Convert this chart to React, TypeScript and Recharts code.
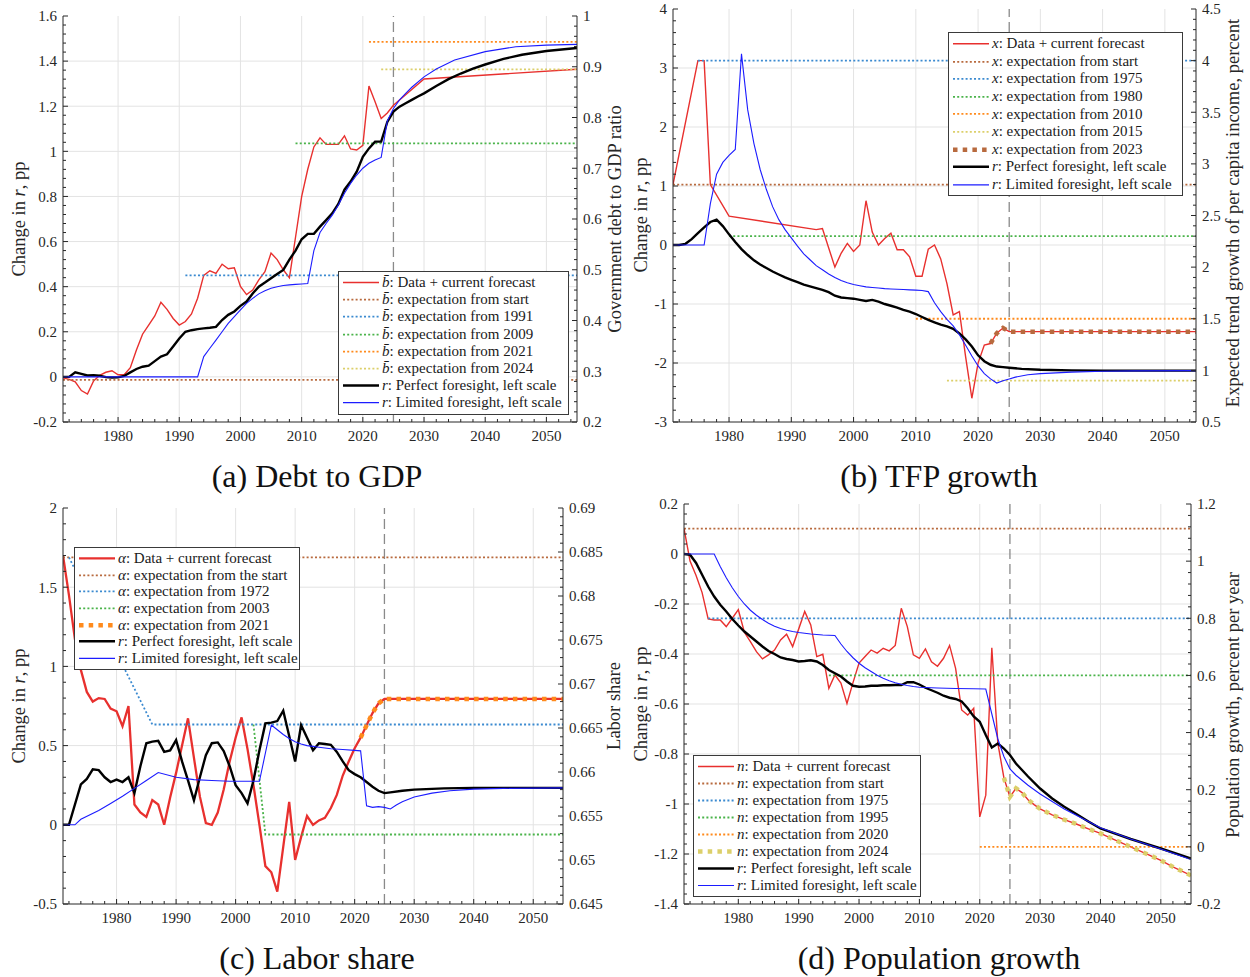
import React from 'react';
import { ComposedChart, Line, XAxis, YAxis, ReferenceLine, CartesianGrid } from 'recharts';

type Pt = [number, number];

const FONT = '"Liberation Serif", "Times New Roman", Times, serif';
const INK = '#262626';

const RED = '#e8302e';
const BROWN = '#b86a3e';
const BLUE_DOT = '#3b8ad0';
const GREEN = '#4ab34a';
const ORANGE = '#ff8a1c';
const YELLOW = '#dccf6a';
const BLUE = '#1c1cff';
const BLACK = '#000000';

const YEAR_LABELS = [1980, 1990, 2000, 2010, 2020, 2030, 2040, 2050];
const X_DOMAIN: [number, number] = [1971, 2055];
const FORECAST_START = 2025;

// ---------------- (a) Debt to GDP ----------------
const A_L_TICKS = [-0.2, 0, 0.2, 0.4, 0.6, 0.8, 1, 1.2, 1.4, 1.6];
const A_R_TICKS = [0.2, 0.3, 0.4, 0.5, 0.6, 0.7, 0.8, 0.9, 1];
// debt to GDP ratio (right scale)
const A_BBAR_DATA: Pt[] = [
  [1971, 0.287], [1972, 0.284], [1973, 0.279], [1974, 0.262], [1975, 0.255], [1976, 0.281], [1977, 0.292],
  [1978, 0.298], [1979, 0.301], [1980, 0.293], [1981, 0.293], [1982, 0.307], [1983, 0.342], [1984, 0.373],
  [1985, 0.391], [1986, 0.409], [1987, 0.436], [1988, 0.422], [1989, 0.404], [1990, 0.391], [1991, 0.398],
  [1992, 0.413], [1993, 0.444], [1994, 0.489], [1995, 0.498], [1996, 0.493], [1997, 0.511], [1998, 0.502],
  [1999, 0.504], [2000, 0.467], [2001, 0.451], [2002, 0.46], [2003, 0.48], [2004, 0.496], [2005, 0.533],
  [2006, 0.52], [2007, 0.5], [2008, 0.484], [2009, 0.564], [2010, 0.644], [2011, 0.698], [2012, 0.742],
  [2013, 0.76], [2014, 0.747], [2015, 0.747], [2016, 0.747], [2017, 0.764], [2018, 0.738], [2019, 0.736],
  [2020, 0.745], [2021, 0.862], [2022, 0.831], [2023, 0.798], [2024, 0.809], [2025, 0.824], [2030, 0.876],
  [2055, 0.895],
];
const A_EXP_START: Pt[] = [[1971, 0.283], [2055, 0.283]];
const A_EXP_1991: Pt[] = [[1991, 0.489], [2055, 0.489]];
const A_EXP_2009: Pt[] = [[2009, 0.749], [2055, 0.749]];
const A_EXP_2021: Pt[] = [[2021, 0.949], [2055, 0.949]];
const A_EXP_2024: Pt[] = [[2023, 0.895], [2055, 0.895]];
const A_R_PERFECT: Pt[] = [
  [1971, 0], [1972, 0], [1973, 0.02], [1974, 0.013], [1975, 0.006], [1976, 0.007], [1977, 0.005], [1978, -0.001],
  [1979, -0.003], [1980, -0.002], [1981, 0.004], [1982, 0.02], [1983, 0.035], [1984, 0.045], [1985, 0.05],
  [1986, 0.07], [1987, 0.09], [1988, 0.1], [1989, 0.135], [1990, 0.17], [1991, 0.2], [1992, 0.207], [1993, 0.212],
  [1994, 0.215], [1995, 0.218], [1996, 0.222], [1997, 0.252], [1998, 0.275], [1999, 0.29], [2000, 0.315],
  [2001, 0.334], [2002, 0.37], [2003, 0.4], [2004, 0.418], [2005, 0.437], [2006, 0.456], [2007, 0.474],
  [2008, 0.52], [2009, 0.56], [2010, 0.61], [2011, 0.634], [2012, 0.634], [2013, 0.666], [2014, 0.695],
  [2015, 0.725], [2016, 0.767], [2017, 0.83], [2018, 0.866], [2019, 0.91], [2020, 0.976], [2021, 1.013],
  [2022, 1.043], [2023, 1.043], [2024, 1.13], [2025, 1.176], [2026, 1.198], [2027, 1.213], [2028, 1.228],
  [2029, 1.243], [2030, 1.257], [2032, 1.29], [2034, 1.32], [2036, 1.345], [2038, 1.367], [2040, 1.385],
  [2043, 1.41], [2046, 1.428], [2050, 1.445], [2055, 1.458],
];
const A_R_LIMITED: Pt[] = [
  [1971, 0], [1993, 0], [1994, 0.09], [1995, 0.127], [1996, 0.163], [1997, 0.2], [1998, 0.237], [1999, 0.267],
  [2000, 0.297], [2001, 0.326], [2002, 0.348], [2003, 0.368], [2004, 0.382], [2005, 0.393], [2006, 0.4],
  [2007, 0.405], [2008, 0.408], [2009, 0.41], [2010, 0.412], [2011, 0.414], [2012, 0.56], [2013, 0.64],
  [2014, 0.68], [2015, 0.717], [2016, 0.762], [2017, 0.814], [2018, 0.858], [2019, 0.895], [2020, 0.925],
  [2021, 0.947], [2022, 0.962], [2023, 0.973], [2024, 1.135], [2025, 1.19], [2026, 1.228], [2027, 1.257],
  [2028, 1.284], [2030, 1.33], [2032, 1.365], [2035, 1.405], [2040, 1.442], [2045, 1.464], [2050, 1.471],
  [2055, 1.474],
];

// ---------------- (b) TFP growth ----------------
const B_L_TICKS = [-3, -2, -1, 0, 1, 2, 3, 4];
const B_R_TICKS = [0.5, 1, 1.5, 2, 2.5, 3, 3.5, 4, 4.5];
const B_X_DATA: Pt[] = [
  [1971, 2.8], [1975, 4.0], [1976, 4.0], [1977, 2.8], [1980, 2.494], [1994, 2.363], [1995, 2.374], [1997, 2.0],
  [1998, 2.134], [1999, 2.23], [2000, 2.151], [2001, 2.214], [2002, 2.643], [2003, 2.34], [2004, 2.214],
  [2005, 2.277], [2006, 2.329], [2007, 2.169], [2008, 2.169], [2009, 2.1], [2010, 1.911], [2011, 1.911],
  [2012, 2.174], [2013, 2.214], [2014, 2.08], [2015, 1.84], [2016, 1.537], [2017, 1.57], [2018, 1.13],
  [2019, 0.73], [2020, 1.07], [2021, 1.246], [2022, 1.26], [2023, 1.36], [2024, 1.41], [2025, 1.375],
  [2055, 1.375],
];
const B_EXP_START: Pt[] = [[1971, 2.8], [2055, 2.8]];
const B_EXP_1975: Pt[] = [[1975, 4.0], [2055, 4.0]];
const B_EXP_1980: Pt[] = [[1980, 2.3], [2055, 2.3]];
const B_EXP_2010: Pt[] = [[2010, 1.5], [2055, 1.5]];
const B_EXP_2015: Pt[] = [[2015, 0.9], [2055, 0.9]];
const B_EXP_2023: Pt[] = [[2022, 1.26], [2023, 1.36], [2024, 1.41], [2025, 1.375], [2055, 1.375]];
const B_R_PERFECT: Pt[] = [
  [1971, 0], [1972, 0], [1973, 0.02], [1974, 0.1], [1975, 0.2], [1976, 0.3], [1977, 0.39], [1978, 0.43],
  [1979, 0.32], [1980, 0.18], [1981, 0.05], [1982, -0.07], [1983, -0.17], [1984, -0.26], [1985, -0.33],
  [1986, -0.39], [1987, -0.45], [1988, -0.5], [1989, -0.55], [1990, -0.59], [1991, -0.63], [1992, -0.67],
  [1993, -0.7], [1994, -0.73], [1995, -0.76], [1996, -0.8], [1997, -0.86], [1998, -0.89], [1999, -0.9],
  [2000, -0.91], [2001, -0.93], [2002, -0.95], [2003, -0.93], [2004, -0.96], [2005, -1.0], [2006, -1.03],
  [2007, -1.06], [2008, -1.1], [2009, -1.13], [2010, -1.17], [2011, -1.22], [2012, -1.27], [2013, -1.31],
  [2014, -1.35], [2015, -1.38], [2016, -1.42], [2017, -1.5], [2018, -1.6], [2019, -1.72], [2020, -1.87],
  [2021, -1.97], [2022, -2.03], [2023, -2.06], [2024, -2.07], [2025, -2.08], [2027, -2.1], [2030, -2.115],
  [2035, -2.125], [2040, -2.13], [2055, -2.13],
];
const B_R_LIMITED: Pt[] = [
  [1971, 0], [1976, 0], [1977, 0.7], [1978, 1.2], [1979, 1.4], [1980, 1.52], [1981, 1.62], [1982, 3.24],
  [1983, 2.29], [1984, 1.72], [1985, 1.28], [1986, 0.94], [1987, 0.65], [1988, 0.43], [1989, 0.26], [1990, 0.12],
  [1991, -0.02], [1992, -0.15], [1993, -0.25], [1994, -0.35], [1995, -0.42], [1996, -0.49], [1997, -0.55],
  [1998, -0.6], [1999, -0.64], [2000, -0.67], [2001, -0.69], [2002, -0.71], [2003, -0.72], [2004, -0.73],
  [2005, -0.74], [2006, -0.745], [2007, -0.75], [2008, -0.755], [2009, -0.76], [2010, -0.765], [2011, -0.77],
  [2012, -0.79], [2013, -0.98], [2014, -1.13], [2015, -1.26], [2016, -1.37], [2017, -1.52], [2018, -1.7],
  [2019, -1.88], [2020, -2.05], [2021, -2.18], [2022, -2.27], [2023, -2.34], [2024, -2.3], [2025, -2.27],
  [2026, -2.24], [2028, -2.2], [2030, -2.18], [2035, -2.155], [2040, -2.14], [2045, -2.133], [2055, -2.13],
];

// ---------------- (c) Labor share ----------------
const C_L_TICKS = [-0.5, 0, 0.5, 1, 1.5, 2];
const C_R_TICKS = [0.645, 0.65, 0.655, 0.66, 0.665, 0.67, 0.675, 0.68, 0.685, 0.69];
const C_ALPHA_DATA: Pt[] = [
  [1971, 0.6846], [1972, 0.6801], [1973, 0.6751], [1974, 0.6716], [1975, 0.6691], [1976, 0.668], [1977, 0.6684],
  [1978, 0.6683], [1979, 0.6672], [1980, 0.6669], [1981, 0.6652], [1982, 0.6675], [1983, 0.6563], [1984, 0.6554],
  [1985, 0.6549], [1986, 0.6568], [1987, 0.6563], [1988, 0.654], [1989, 0.6571], [1990, 0.6599], [1991, 0.663],
  [1992, 0.6661], [1993, 0.6616], [1994, 0.6572], [1995, 0.6542], [1996, 0.654], [1997, 0.6554], [1998, 0.658],
  [1999, 0.6612], [2000, 0.6639], [2001, 0.6662], [2002, 0.6626], [2003, 0.6585], [2004, 0.654], [2005, 0.6493],
  [2006, 0.6486], [2007, 0.6464], [2008, 0.6515], [2009, 0.6566], [2010, 0.65], [2011, 0.6526], [2012, 0.655],
  [2013, 0.654], [2014, 0.6545], [2015, 0.6548], [2016, 0.6559], [2017, 0.6574], [2018, 0.6596], [2019, 0.6612],
  [2020, 0.6627], [2021, 0.6639], [2022, 0.6653], [2023, 0.6667], [2024, 0.6678], [2025, 0.6683], [2055, 0.6683],
];
const C_EXP_START: Pt[] = [[1971, 0.6844], [2055, 0.6844]];
const C_EXP_1972: Pt[] = [[1972, 0.6844], [1986, 0.6654], [2055, 0.6654]];
const C_EXP_2003: Pt[] = [[2003, 0.6654], [2005, 0.6529], [2055, 0.6529]];
const C_EXP_2021: Pt[] = [[2021, 0.6639], [2022, 0.6653], [2023, 0.6667], [2024, 0.6678], [2025, 0.6683], [2055, 0.6683]];
const C_R_PERFECT: Pt[] = [
  [1971, 0], [1972, 0], [1974, 0.255], [1975, 0.29], [1976, 0.35], [1977, 0.345], [1978, 0.3], [1979, 0.27],
  [1980, 0.285], [1981, 0.27], [1982, 0.3], [1983, 0.2], [1984, 0.37], [1985, 0.515], [1986, 0.525], [1987, 0.53],
  [1988, 0.46], [1989, 0.47], [1990, 0.535], [1991, 0.4], [1992, 0.28], [1993, 0.155], [1994, 0.3], [1995, 0.44],
  [1996, 0.515], [1997, 0.52], [1998, 0.465], [1999, 0.37], [2000, 0.25], [2001, 0.2], [2002, 0.135], [2003, 0.28],
  [2004, 0.47], [2005, 0.64], [2006, 0.645], [2007, 0.655], [2008, 0.72], [2009, 0.56], [2010, 0.4], [2011, 0.63],
  [2012, 0.55], [2013, 0.47], [2014, 0.515], [2015, 0.51], [2016, 0.505], [2017, 0.46], [2018, 0.4], [2019, 0.345],
  [2020, 0.32], [2021, 0.3], [2022, 0.27], [2023, 0.24], [2024, 0.215], [2025, 0.2], [2026, 0.205], [2028, 0.215],
  [2030, 0.222], [2035, 0.23], [2040, 0.233], [2055, 0.233],
];
const C_R_LIMITED: Pt[] = [
  [1971, 0], [1973, 0], [1974, 0.035], [1977, 0.09], [1979, 0.135], [1981, 0.18], [1983, 0.23], [1985, 0.28],
  [1987, 0.33], [1990, 0.3], [1993, 0.285], [1996, 0.28], [1999, 0.275], [2004, 0.275], [2006, 0.63], [2007, 0.6],
  [2008, 0.57], [2009, 0.545], [2010, 0.525], [2011, 0.51], [2012, 0.5], [2013, 0.495], [2014, 0.49], [2015, 0.485],
  [2016, 0.48], [2018, 0.475], [2020, 0.47], [2021, 0.467], [2022, 0.12], [2023, 0.11], [2024, 0.115], [2025, 0.11],
  [2026, 0.1], [2027, 0.125], [2028, 0.145], [2030, 0.175], [2033, 0.2], [2036, 0.215], [2040, 0.225], [2045, 0.23],
  [2055, 0.233],
];

// ---------------- (d) Population growth ----------------
const D_L_TICKS = [-1.4, -1.2, -1, -0.8, -0.6, -0.4, -0.2, 0, 0.2];
const D_R_TICKS = [-0.2, 0, 0.2, 0.4, 0.6, 0.8, 1, 1.2];
const D_N_DATA: Pt[] = [
  [1971, 1.115], [1972, 1.0], [1973, 0.95], [1974, 0.89], [1975, 0.798], [1976, 0.794], [1977, 0.794], [1978, 0.771],
  [1979, 0.8], [1980, 0.83], [1981, 0.751], [1982, 0.718], [1983, 0.683], [1984, 0.658], [1985, 0.672], [1986, 0.689],
  [1987, 0.724], [1988, 0.744], [1989, 0.701], [1991, 0.824], [1992, 0.777], [1993, 0.666], [1994, 0.674],
  [1995, 0.555], [1996, 0.602], [1997, 0.573], [1998, 0.502], [1999, 0.575], [2000, 0.643], [2001, 0.666],
  [2002, 0.689], [2003, 0.678], [2004, 0.695], [2005, 0.686], [2006, 0.705], [2007, 0.835], [2008, 0.771],
  [2009, 0.672], [2010, 0.66], [2011, 0.693], [2012, 0.648], [2013, 0.632], [2014, 0.66], [2015, 0.705],
  [2016, 0.625], [2017, 0.479], [2018, 0.461], [2019, 0.485], [2020, 0.105], [2021, 0.181], [2022, 0.697],
  [2023, 0.362], [2024, 0.242], [2025, 0.175], [2026, 0.205], [2027, 0.19], [2028, 0.165], [2029, 0.148],
  [2030, 0.133], [2032, 0.112], [2034, 0.095], [2036, 0.08], [2038, 0.063], [2040, 0.047], [2042, 0.028],
  [2045, 0.0], [2048, -0.028], [2050, -0.047], [2052, -0.07], [2055, -0.1],
];
const D_EXP_START: Pt[] = [[1971, 1.114], [2055, 1.114]];
const D_EXP_1975: Pt[] = [[1975, 0.8], [2055, 0.8]];
const D_EXP_1995: Pt[] = [[1995, 0.6], [2055, 0.6]];
const D_EXP_2020: Pt[] = [[2020, 0], [2055, 0]];
const D_EXP_2024: Pt[] = [
  [2024, 0.242], [2025, 0.175], [2026, 0.205], [2027, 0.19], [2028, 0.165], [2029, 0.148], [2030, 0.133],
  [2032, 0.112], [2034, 0.095], [2036, 0.08], [2038, 0.063], [2040, 0.047], [2042, 0.028], [2045, 0.0],
  [2048, -0.028], [2050, -0.047], [2052, -0.07], [2055, -0.1],
];
const D_R_PERFECT: Pt[] = [
  [1971, 0], [1972, -0.003], [1973, -0.036], [1974, -0.083], [1975, -0.13], [1976, -0.17], [1977, -0.203],
  [1978, -0.23], [1979, -0.26], [1980, -0.286], [1981, -0.31], [1982, -0.33], [1983, -0.35], [1984, -0.37],
  [1985, -0.388], [1986, -0.4], [1987, -0.414], [1988, -0.42], [1989, -0.424], [1990, -0.43], [1991, -0.428],
  [1992, -0.425], [1993, -0.43], [1994, -0.444], [1995, -0.464], [1996, -0.477], [1997, -0.49], [1998, -0.51],
  [1999, -0.527], [2000, -0.531], [2001, -0.53], [2002, -0.527], [2003, -0.527], [2004, -0.525], [2005, -0.525],
  [2006, -0.524], [2007, -0.524], [2008, -0.513], [2009, -0.513], [2010, -0.522], [2011, -0.535], [2012, -0.545],
  [2013, -0.555], [2014, -0.567], [2015, -0.575], [2016, -0.58], [2017, -0.59], [2018, -0.617], [2019, -0.65],
  [2020, -0.671], [2021, -0.724], [2022, -0.774], [2023, -0.758], [2024, -0.778], [2025, -0.804], [2026, -0.838],
  [2027, -0.864], [2028, -0.89], [2030, -0.938], [2032, -0.978], [2034, -1.011], [2036, -1.04], [2038, -1.07],
  [2040, -1.098], [2045, -1.14], [2050, -1.178], [2055, -1.218],
];
const D_R_LIMITED: Pt[] = [
  [1971, 0], [1976, 0], [1977, -0.05], [1978, -0.095], [1979, -0.135], [1980, -0.17], [1981, -0.2], [1982, -0.225],
  [1983, -0.245], [1984, -0.262], [1985, -0.277], [1986, -0.289], [1987, -0.298], [1988, -0.305], [1989, -0.31],
  [1990, -0.314], [1991, -0.317], [1992, -0.32], [1993, -0.322], [1994, -0.324], [1995, -0.325], [1996, -0.326],
  [1997, -0.36], [1998, -0.39], [1999, -0.415], [2000, -0.437], [2001, -0.455], [2002, -0.47], [2003, -0.485],
  [2004, -0.497], [2005, -0.507], [2006, -0.515], [2007, -0.521], [2008, -0.526], [2009, -0.53], [2010, -0.533],
  [2013, -0.536], [2016, -0.538], [2019, -0.539], [2021, -0.54], [2022, -0.64], [2023, -0.74], [2024, -0.81],
  [2025, -0.86], [2026, -0.885], [2027, -0.905], [2028, -0.925], [2030, -0.96], [2032, -0.99], [2034, -1.02],
  [2036, -1.045], [2038, -1.07], [2040, -1.095], [2045, -1.14], [2050, -1.18], [2055, -1.222],
];

// ---------------- helpers ----------------
interface SeriesSpec { data: Pt[]; axis: 'l' | 'r'; color: string; width: number; dash?: string }
interface LegendItem { sym: string; text: string; color: string; width: number; dash?: string }
interface PanelCfg {
  x: number; y: number; w: number; h: number;
  plotTop: number; leftW: number; rightW: number; bottomH: number;
  lDomain: [number, number]; lMajor: number[]; lMinor: number;
  rDomain: [number, number]; rMajor: number[]; rMinor: number;
  series: SeriesSpec[];
  legend: { x: number; y: number; w: number; rowH: number; items: LegendItem[] };
  leftTitle: { x: number; y: number };
  rightTitle: { x: number; y: number; text: string };
  caption: { x: number; y: number; text: string };
}

const DOT = '2 2.2';
const THICK_DOT = '4.5 5.2';
const MAJOR_LEN = 5;
const MINOR_LEN = 3;
const M_BOTTOM = 8;
const M_SIDE = 6;

function steps(lo: number, hi: number, step: number): number[] {
  const n = Math.round((hi - lo) / step);
  const out: number[] = [];
  for (let i = 0; i <= n; i++) out.push(Math.round((lo + i * step) * 1e6) / 1e6);
  return out;
}
const isMajor = (majors: number[], v: number) => majors.some((m) => Math.abs(m - v) < 1e-7);
const label = (v: number) => String(Math.round(v * 1e6) / 1e6);
const rows = (p: Pt[]) => p.map(([t, v]) => ({ t, v }));

const textProps = { fill: INK, fontSize: 15, fontFamily: FONT };

// inward-pointing MATLAB-style ticks, drawn with the tick position supplied by the axis
function makeTick(side: 'bottom' | 'top' | 'left' | 'right', majors: number[], showLabel: boolean) {
  return (p: any) => {
    const v = p.payload.value;
    const maj = isMajor(majors, v);
    const len = maj ? MAJOR_LEN : MINOR_LEN;
    if (side === 'bottom') {
      const ay = p.y - M_BOTTOM;
      return (
        <g>
          <line x1={p.x} x2={p.x} y1={ay} y2={ay - len} stroke={INK} strokeWidth={1} />
          {showLabel && maj ? <text x={p.x} y={p.y} dy="0.71em" textAnchor="middle" {...textProps}>{label(v)}</text> : null}
        </g>
      );
    }
    if (side === 'top') {
      const ay = p.y;
      return <g><line x1={p.x} x2={p.x} y1={ay} y2={ay + len} stroke={INK} strokeWidth={1} /></g>;
    }
    if (side === 'left') {
      const ax = p.x + M_SIDE;
      return (
        <g>
          <line x1={ax} x2={ax + len} y1={p.y} y2={p.y} stroke={INK} strokeWidth={1} />
          {showLabel && maj ? <text x={p.x} y={p.y} dy="0.355em" textAnchor="end" {...textProps}>{label(v)}</text> : null}
        </g>
      );
    }
    const ax = p.x - M_SIDE;
    return (
      <g>
        <line x1={ax} x2={ax - len} y1={p.y} y2={p.y} stroke={INK} strokeWidth={1} />
        {showLabel && maj ? <text x={p.x} y={p.y} dy="0.355em" textAnchor="start" {...textProps}>{label(v)}</text> : null}
      </g>
    );
  };
}

function Panel({ c }: { c: PanelCfg }) {
  const xTicks = steps(1972, 2054, 2);
  const lTicks = steps(c.lDomain[0], c.lDomain[1], c.lMinor);
  const rTicks = steps(c.rDomain[0], c.rDomain[1], c.rMinor);
  const hGrid = c.lMajor.filter((v) => v > c.lDomain[0] && v < c.lDomain[1]);
  return (
    <>
      <div style={{ position: 'absolute', left: c.x, top: c.y }}>
        <ComposedChart width={c.w} height={c.h} margin={{ top: c.plotTop, right: 0, bottom: 0, left: 0 }}>
          <CartesianGrid xAxisId="b" yAxisId="l" verticalValues={YEAR_LABELS} horizontalValues={hGrid} stroke="#e3e3e3" strokeWidth={1} />
          <XAxis xAxisId="b" type="number" dataKey="t" domain={X_DOMAIN} allowDataOverflow ticks={xTicks} interval={0}
            height={c.bottomH} tickSize={0} tickLine={false} tickMargin={M_BOTTOM} stroke={INK}
            tick={makeTick('bottom', YEAR_LABELS, true)} />
          <XAxis xAxisId="t" orientation="top" type="number" dataKey="t" domain={X_DOMAIN} allowDataOverflow ticks={xTicks}
            interval={0} height={0} tickSize={0} tickLine={false} tickMargin={0} stroke={INK}
            tick={makeTick('top', YEAR_LABELS, false)} />
          <YAxis yAxisId="l" type="number" domain={c.lDomain} allowDataOverflow ticks={lTicks} interval={0}
            width={c.leftW} tickSize={0} tickLine={false} tickMargin={M_SIDE} stroke={INK}
            tick={makeTick('left', c.lMajor, true)} />
          <YAxis yAxisId="r" orientation="right" type="number" domain={c.rDomain} allowDataOverflow ticks={rTicks} interval={0}
            width={c.rightW} tickSize={0} tickLine={false} tickMargin={M_SIDE} stroke={INK}
            tick={makeTick('right', c.rMajor, true)} />
          <ReferenceLine xAxisId="b" yAxisId="l" x={FORECAST_START} stroke="#8a8a8a" strokeWidth={1.3} strokeDasharray="10 5" />
          {c.series.map((s, i) => (
            <Line key={i} xAxisId="b" yAxisId={s.axis} data={rows(s.data)} dataKey="v" type="linear"
              stroke={s.color} strokeWidth={s.width} strokeDasharray={s.dash} dot={false} activeDot={false}
              isAnimationActive={false} legendType="none" />
          ))}
        </ComposedChart>
      </div>
      <div style={{
        position: 'absolute', left: c.legend.x, top: c.legend.y, width: c.legend.w, background: '#fff',
        border: '1px solid #3a3a3a', padding: '2px 0', fontFamily: FONT, fontSize: 15, color: '#1a1a1a',
        boxSizing: 'border-box',
      }}>
        {c.legend.items.map((it, i) => (
          <div key={i} style={{ height: c.legend.rowH, display: 'flex', alignItems: 'center', whiteSpace: 'nowrap' }}>
            <svg width={41} height={c.legend.rowH} style={{ flex: 'none' }}>
              <line x1={4} x2={40} y1={c.legend.rowH / 2} y2={c.legend.rowH / 2} stroke={it.color}
                strokeWidth={it.width} strokeDasharray={it.dash} />
            </svg>
            <span style={{ marginLeft: 2 }}><i>{it.sym}</i>: {it.text}</span>
          </div>
        ))}
      </div>
      <div style={{
        position: 'absolute', left: c.leftTitle.x, top: c.leftTitle.y, transform: 'translate(-50%, -50%) rotate(-90deg)',
        whiteSpace: 'nowrap', fontFamily: FONT, fontSize: 18.5, color: INK, lineHeight: 1,
      }}>
        Change in <i>r</i>, pp
      </div>
      <div style={{
        position: 'absolute', left: c.rightTitle.x, top: c.rightTitle.y, transform: 'translate(-50%, -50%) rotate(-90deg)',
        whiteSpace: 'nowrap', fontFamily: FONT, fontSize: 18.5, color: INK, lineHeight: 1,
      }}>
        {c.rightTitle.text}
      </div>
      <div style={{
        position: 'absolute', left: c.caption.x, top: c.caption.y, transform: 'translate(-50%, -50%)',
        whiteSpace: 'nowrap', fontFamily: FONT, fontSize: 32, color: '#111', lineHeight: 1,
      }}>
        {c.caption.text}
      </div>
    </>
  );
}

const BBAR = 'b\u0304';

const PANEL_A: PanelCfg = {
  x: 0, y: 0, w: 620, h: 450, plotTop: 16, leftW: 63, rightW: 43, bottomH: 28,
  lDomain: [-0.2, 1.6], lMajor: A_L_TICKS, lMinor: 0.04,
  rDomain: [0.2, 1], rMajor: A_R_TICKS, rMinor: 0.02,
  series: [
    { data: A_BBAR_DATA, axis: 'r', color: RED, width: 1.4 },
    { data: A_EXP_START, axis: 'r', color: BROWN, width: 1.8, dash: DOT },
    { data: A_EXP_1991, axis: 'r', color: BLUE_DOT, width: 1.8, dash: DOT },
    { data: A_EXP_2009, axis: 'r', color: GREEN, width: 1.8, dash: DOT },
    { data: A_EXP_2021, axis: 'r', color: ORANGE, width: 1.8, dash: DOT },
    { data: A_EXP_2024, axis: 'r', color: YELLOW, width: 1.8, dash: DOT },
    { data: A_R_PERFECT, axis: 'l', color: BLACK, width: 2.4 },
    { data: A_R_LIMITED, axis: 'l', color: BLUE, width: 1.1 },
  ],
  legend: {
    x: 338, y: 271, w: 231, rowH: 17.2, items: [
      { sym: BBAR, text: 'Data + current forecast', color: RED, width: 1.5 },
      { sym: BBAR, text: 'expectation from start', color: BROWN, width: 1.8, dash: DOT },
      { sym: BBAR, text: 'expectation from 1991', color: BLUE_DOT, width: 1.8, dash: DOT },
      { sym: BBAR, text: 'expectation from 2009', color: GREEN, width: 1.8, dash: DOT },
      { sym: BBAR, text: 'expectation from 2021', color: ORANGE, width: 1.8, dash: DOT },
      { sym: BBAR, text: 'expectation from 2024', color: YELLOW, width: 1.8, dash: DOT },
      { sym: 'r', text: 'Perfect foresight, left scale', color: BLACK, width: 2.5 },
      { sym: 'r', text: 'Limited foresight, left scale', color: BLUE, width: 1.2 },
    ],
  },
  leftTitle: { x: 19, y: 219 },
  rightTitle: { x: 615, y: 219, text: 'Government debt to GDP ratio' },
  caption: { x: 317, y: 476, text: '(a) Debt to GDP' },
};

const PANEL_B: PanelCfg = {
  x: 620, y: 0, w: 630, h: 450, plotTop: 9, leftW: 53, rightW: 54, bottomH: 28,
  lDomain: [-3, 4], lMajor: B_L_TICKS, lMinor: 0.2,
  rDomain: [0.5, 4.5], rMajor: B_R_TICKS, rMinor: 0.1,
  series: [
    { data: B_X_DATA, axis: 'r', color: RED, width: 1.4 },
    { data: B_EXP_START, axis: 'r', color: BROWN, width: 1.8, dash: DOT },
    { data: B_EXP_1975, axis: 'r', color: BLUE_DOT, width: 1.8, dash: DOT },
    { data: B_EXP_1980, axis: 'r', color: GREEN, width: 1.8, dash: DOT },
    { data: B_EXP_2010, axis: 'r', color: ORANGE, width: 1.8, dash: DOT },
    { data: B_EXP_2015, axis: 'r', color: YELLOW, width: 1.8, dash: DOT },
    { data: B_EXP_2023, axis: 'r', color: BROWN, width: 4.5, dash: THICK_DOT },
    { data: B_R_PERFECT, axis: 'l', color: BLACK, width: 2.4 },
    { data: B_R_LIMITED, axis: 'l', color: BLUE, width: 1.1 },
  ],
  legend: {
    x: 948, y: 32, w: 235, rowH: 17.6, items: [
      { sym: 'x', text: 'Data + current forecast', color: RED, width: 1.5 },
      { sym: 'x', text: 'expectation from start', color: BROWN, width: 1.8, dash: DOT },
      { sym: 'x', text: 'expectation from 1975', color: BLUE_DOT, width: 1.8, dash: DOT },
      { sym: 'x', text: 'expectation from 1980', color: GREEN, width: 1.8, dash: DOT },
      { sym: 'x', text: 'expectation from 2010', color: ORANGE, width: 1.8, dash: DOT },
      { sym: 'x', text: 'expectation from 2015', color: YELLOW, width: 1.8, dash: DOT },
      { sym: 'x', text: 'expectation from 2023', color: BROWN, width: 4.5, dash: THICK_DOT },
      { sym: 'r', text: 'Perfect foresight, left scale', color: BLACK, width: 2.5 },
      { sym: 'r', text: 'Limited foresight, left scale', color: BLUE, width: 1.2 },
    ],
  },
  leftTitle: { x: 641, y: 215 },
  rightTitle: { x: 1233, y: 213, text: 'Expected trend growth of per capita income, percent' },
  caption: { x: 939, y: 476, text: '(b) TFP growth' },
};

const PANEL_C: PanelCfg = {
  x: 0, y: 480, w: 620, h: 450, plotTop: 28, leftW: 63, rightW: 57, bottomH: 26,
  lDomain: [-0.5, 2], lMajor: C_L_TICKS, lMinor: 0.1,
  rDomain: [0.645, 0.69], rMajor: C_R_TICKS, rMinor: 0.001,
  series: [
    { data: C_ALPHA_DATA, axis: 'r', color: RED, width: 2.3 },
    { data: C_EXP_START, axis: 'r', color: BROWN, width: 1.8, dash: DOT },
    { data: C_EXP_1972, axis: 'r', color: BLUE_DOT, width: 1.8, dash: DOT },
    { data: C_EXP_2003, axis: 'r', color: GREEN, width: 1.8, dash: DOT },
    { data: C_EXP_2021, axis: 'r', color: ORANGE, width: 4.5, dash: THICK_DOT },
    { data: C_R_PERFECT, axis: 'l', color: BLACK, width: 2.4 },
    { data: C_R_LIMITED, axis: 'l', color: BLUE, width: 1.1 },
  ],
  legend: {
    x: 74, y: 547, w: 226, rowH: 16.7, items: [
      { sym: '\u03b1', text: 'Data + current forecast', color: RED, width: 2.3 },
      { sym: '\u03b1', text: 'expectation from the start', color: BROWN, width: 1.8, dash: DOT },
      { sym: '\u03b1', text: 'expectation from 1972', color: BLUE_DOT, width: 1.8, dash: DOT },
      { sym: '\u03b1', text: 'expectation from 2003', color: GREEN, width: 1.8, dash: DOT },
      { sym: '\u03b1', text: 'expectation from 2021', color: ORANGE, width: 4.5, dash: THICK_DOT },
      { sym: 'r', text: 'Perfect foresight, left scale', color: BLACK, width: 2.5 },
      { sym: 'r', text: 'Limited foresight, left scale', color: BLUE, width: 1.2 },
    ],
  },
  leftTitle: { x: 19, y: 706 },
  rightTitle: { x: 614, y: 706, text: 'Labor share' },
  caption: { x: 317, y: 958, text: '(c) Labor share' },
};

const PANEL_D: PanelCfg = {
  x: 620, y: 480, w: 630, h: 450, plotTop: 24, leftW: 64, rightW: 59, bottomH: 26,
  lDomain: [-1.4, 0.2], lMajor: D_L_TICKS, lMinor: 0.04,
  rDomain: [-0.2, 1.2], rMajor: D_R_TICKS, rMinor: 0.04,
  series: [
    { data: D_N_DATA, axis: 'r', color: RED, width: 1.4 },
    { data: D_EXP_START, axis: 'r', color: BROWN, width: 1.8, dash: DOT },
    { data: D_EXP_1975, axis: 'r', color: BLUE_DOT, width: 1.8, dash: DOT },
    { data: D_EXP_1995, axis: 'r', color: GREEN, width: 1.8, dash: DOT },
    { data: D_EXP_2020, axis: 'r', color: ORANGE, width: 1.8, dash: DOT },
    { data: D_EXP_2024, axis: 'r', color: YELLOW, width: 4.5, dash: THICK_DOT },
    { data: D_R_PERFECT, axis: 'l', color: BLACK, width: 2.4 },
    { data: D_R_LIMITED, axis: 'l', color: BLUE, width: 1.1 },
  ],
  legend: {
    x: 693, y: 755, w: 228, rowH: 17, items: [
      { sym: 'n', text: 'Data + current forecast', color: RED, width: 1.5 },
      { sym: 'n', text: 'expectation from start', color: BROWN, width: 1.8, dash: DOT },
      { sym: 'n', text: 'expectation from 1975', color: BLUE_DOT, width: 1.8, dash: DOT },
      { sym: 'n', text: 'expectation from 1995', color: GREEN, width: 1.8, dash: DOT },
      { sym: 'n', text: 'expectation from 2020', color: ORANGE, width: 1.8, dash: DOT },
      { sym: 'n', text: 'expectation from 2024', color: YELLOW, width: 4.5, dash: THICK_DOT },
      { sym: 'r', text: 'Perfect foresight, left scale', color: BLACK, width: 2.5 },
      { sym: 'r', text: 'Limited foresight, left scale', color: BLUE, width: 1.2 },
    ],
  },
  leftTitle: { x: 641, y: 704 },
  rightTitle: { x: 1233, y: 705, text: 'Population growth, percent per year' },
  caption: { x: 939, y: 958, text: '(d) Population growth' },
};

export default function App() {
  return (
    <div style={{ position: 'absolute', left: 0, top: 0, width: 1250, height: 977, background: '#fff', overflow: 'hidden' }}>
      <Panel c={PANEL_A} />
      <Panel c={PANEL_B} />
      <Panel c={PANEL_C} />
      <Panel c={PANEL_D} />
    </div>
  );
}
